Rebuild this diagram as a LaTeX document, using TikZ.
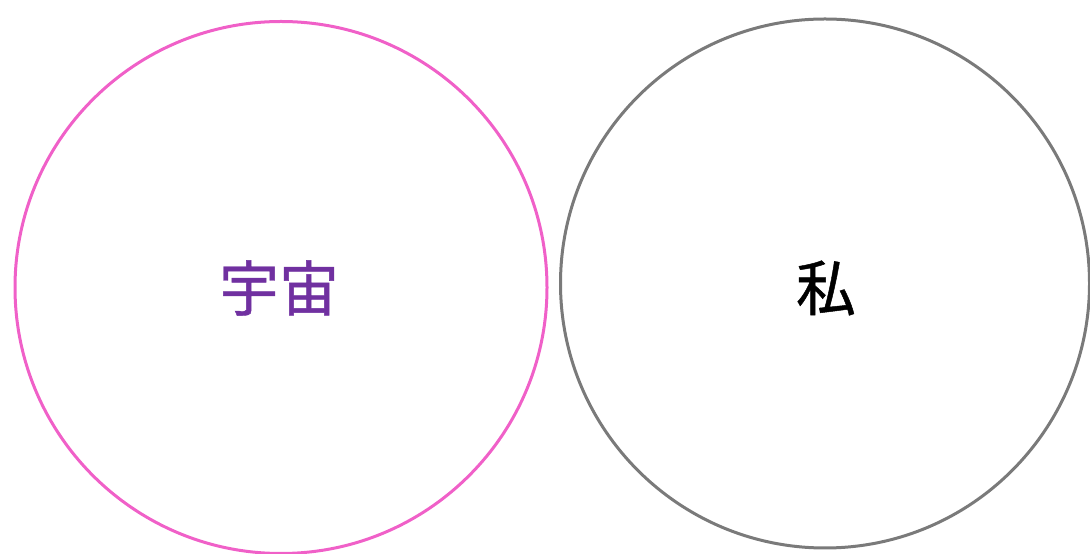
\documentclass[tikz,border=0pt]{standalone}
\usepackage{fontspec}
\newfontfamily\cjk[FakeBold=0.8]{Noto Sans CJK JP}
\definecolor{pinkline}{HTML}{F060C8}
\definecolor{grayline}{HTML}{7A7A7A}
\definecolor{purpletext}{HTML}{7030A0}
\begin{document}
\begin{tikzpicture}[x=1pt,y=1pt,
  ring/.style={circle,line width=3pt,inner sep=0pt,minimum size=#1},
  label/.style={font=\cjk\fontsize{60}{60}\selectfont}]
\useasboundingbox (0,0) rectangle (1090,554);
\node[ring=532pt,draw=pinkline] (universe) at (281,266.5) {};
\node[ring=529pt,draw=grayline] (me) at (825,270.5) {};
\node[label,text=purpletext] (t1) at (279,266) {宇宙};
\node[label,text=black] (t2) at (826,266) {私};
\end{tikzpicture}
\end{document}
